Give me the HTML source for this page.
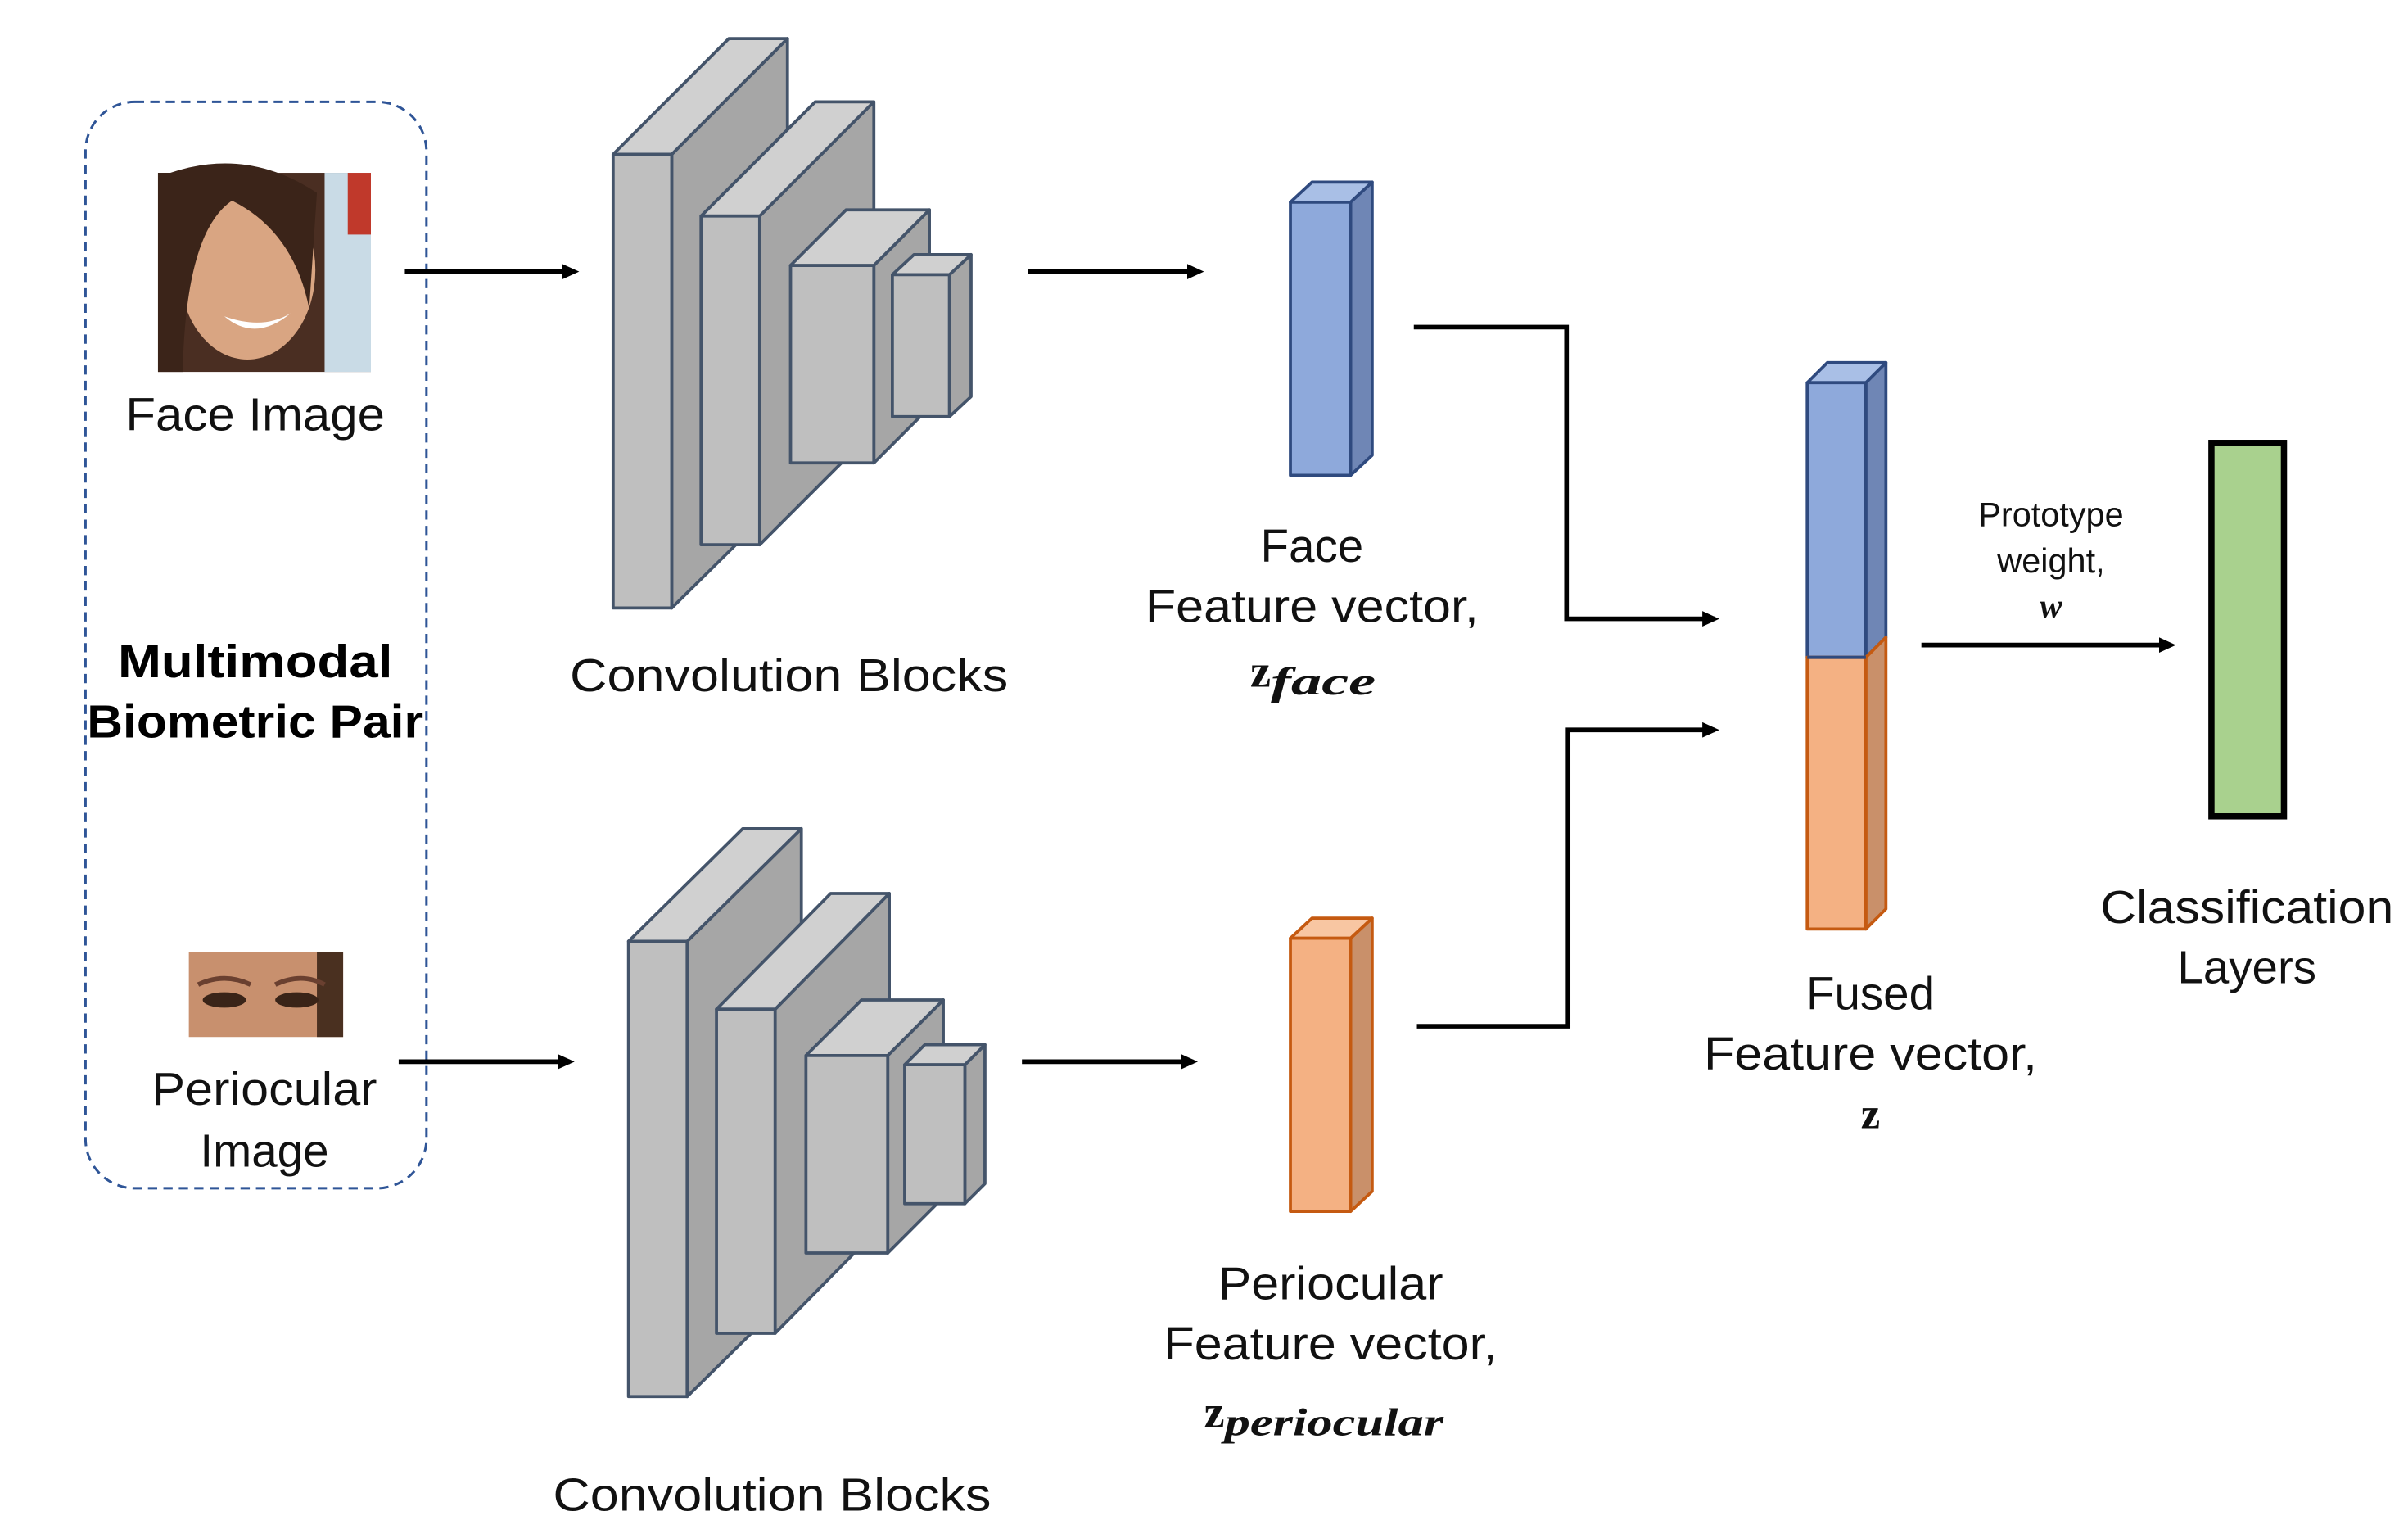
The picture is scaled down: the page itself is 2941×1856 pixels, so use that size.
<!DOCTYPE html>
<html><head><meta charset="utf-8"><style>html,body{margin:0;padding:0;background:#fff}svg{display:block}</style></head>
<body>
<svg width="2941" height="1856" viewBox="0 0 1560 985" xmlns="http://www.w3.org/2000/svg" font-family="Liberation Sans, sans-serif">
<defs>
<marker id="ah" markerWidth="11" markerHeight="10" refX="8" refY="5" orient="auto" markerUnits="userSpaceOnUse"><path d="M0,0 L11,5 L0,10 Z" fill="#000"/></marker>
</defs>
<rect x="0" y="0" width="1560" height="985" fill="#fff"/>
<rect x="55" y="66" width="221" height="704" rx="32" fill="none" stroke="#2F5597" stroke-width="1.6" stroke-dasharray="6,4"/>
<rect x="102" y="112" width="138" height="129" fill="#4a2e22"/>
<rect x="210" y="112" width="30" height="129" fill="#c9dbe6"/>
<rect x="225" y="112" width="15" height="40" fill="#c0392b"/>
<ellipse cx="160" cy="175" rx="44" ry="58" fill="#d9a582"/>
<path d="M110,112 Q160,95 205,125 L200,200 Q190,150 150,130 Q120,150 118,241 L102,241 L102,112 Z" fill="#3b2419"/>
<path d="M145,205 Q165,222 188,203 Q170,214 145,205 Z" fill="#fff"/>
<rect x="122" y="617" width="100" height="55" fill="#c8906e"/>
<rect x="205" y="617" width="17" height="55" fill="#4a3020"/>
<ellipse cx="145" cy="648" rx="14" ry="5" fill="#3a2418"/>
<ellipse cx="192" cy="648" rx="14" ry="5" fill="#3a2418"/>
<path d="M128,638 Q145,630 162,638" stroke="#6a4030" stroke-width="3" fill="none"/>
<path d="M178,638 Q195,630 210,638" stroke="#6a4030" stroke-width="3" fill="none"/>
<g font-size="30" fill="#111" text-anchor="middle">
<text x="165" y="279" textLength="168" lengthAdjust="spacingAndGlyphs">Face Image</text>
<text x="171" y="716" textLength="146" lengthAdjust="spacingAndGlyphs">Periocular</text>
<text x="171" y="756">Image</text>
<text x="511" y="448" textLength="284" lengthAdjust="spacingAndGlyphs">Convolution Blocks</text>
<text x="500" y="979" textLength="284" lengthAdjust="spacingAndGlyphs">Convolution Blocks</text>
<text x="850" y="364">Face</text>
<text x="850" y="403" textLength="216" lengthAdjust="spacingAndGlyphs">Feature vector,</text>
<text x="862" y="842" textLength="146" lengthAdjust="spacingAndGlyphs">Periocular</text>
<text x="862" y="881" textLength="216" lengthAdjust="spacingAndGlyphs">Feature vector,</text>
<text x="1212" y="654">Fused</text>
<text x="1212" y="693" textLength="216" lengthAdjust="spacingAndGlyphs">Feature vector,</text>
<text x="1456" y="598" textLength="190" lengthAdjust="spacingAndGlyphs">Classification</text>
<text x="1456" y="637">Layers</text>
</g>
<g font-size="30" font-weight="bold" fill="#000" text-anchor="middle">
<text x="165" y="439" textLength="178" lengthAdjust="spacingAndGlyphs">Multimodal</text>
<text x="165" y="478" textLength="218" lengthAdjust="spacingAndGlyphs">Biometric Pair</text>
</g>
<g font-family="Liberation Serif, serif" fill="#111">
<text x="810" y="445" font-size="30" font-weight="bold">z<tspan font-size="25" font-style="italic" dy="5" textLength="68" lengthAdjust="spacingAndGlyphs">face</tspan></text>
<text x="780" y="925" font-size="30" font-weight="bold">z<tspan font-size="25" font-style="italic" dy="5" textLength="142" lengthAdjust="spacingAndGlyphs">periocular</tspan></text>
<text x="1212" y="731" font-size="28" font-weight="bold" text-anchor="middle">z</text>
<text x="1329" y="400" font-size="22" font-weight="bold" font-style="italic" text-anchor="middle">w</text>
</g>
<g font-size="22" fill="#111" text-anchor="middle">
<text x="1329" y="341">Prototype</text>
<text x="1329" y="371">weight,</text>
</g>
<g stroke="#000" stroke-width="3" fill="none" marker-end="url(#ah)">
<line x1="262" y1="176" x2="372" y2="176"/>
<line x1="258" y1="688" x2="369" y2="688"/>
<line x1="666" y1="176" x2="777" y2="176"/>
<line x1="662" y1="688" x2="773" y2="688"/>
<polyline points="916,212 1015,212 1015,401 1111,401"/>
<polyline points="918,665 1016,665 1016,473 1111,473"/>
<line x1="1245" y1="418" x2="1407" y2="418"/>
</g>
<g stroke="#44546A" stroke-width="2" stroke-linejoin="round">
<polygon points="435,100 510,25 510,320 435,394" fill="#A6A6A6"/><polygon points="397,100 472,25 510,25 435,100" fill="#D0D0D0"/><rect x="397" y="100" width="38" height="294" fill="#BFBFBF"/>
<polygon points="492,140 566,66 566,279 492,353" fill="#A6A6A6"/><polygon points="454,140 528,66 566,66 492,140" fill="#D0D0D0"/><rect x="454" y="140" width="38" height="213" fill="#BFBFBF"/>
<polygon points="566,172 602,136 602,264 566,300" fill="#A6A6A6"/><polygon points="512,172 548,136 602,136 566,172" fill="#D0D0D0"/><rect x="512" y="172" width="54" height="128" fill="#BFBFBF"/>
<polygon points="615,178 629,165 629,257 615,270" fill="#A6A6A6"/><polygon points="578,178 592,165 629,165 615,178" fill="#D0D0D0"/><rect x="578" y="178" width="37" height="92" fill="#BFBFBF"/>
<polygon points="445,610 519,537 519,832 445,905" fill="#A6A6A6"/><polygon points="407,610 481,537 519,537 445,610" fill="#D0D0D0"/><rect x="407" y="610" width="38" height="295" fill="#BFBFBF"/>
<polygon points="502,654 576,579 576,789 502,864" fill="#A6A6A6"/><polygon points="464,654 538,579 576,579 502,654" fill="#D0D0D0"/><rect x="464" y="654" width="38" height="210" fill="#BFBFBF"/>
<polygon points="575,684 611,648 611,776 575,812" fill="#A6A6A6"/><polygon points="522,684 558,648 611,648 575,684" fill="#D0D0D0"/><rect x="522" y="684" width="53" height="128" fill="#BFBFBF"/>
<polygon points="625,690 638,677 638,767 625,780" fill="#A6A6A6"/><polygon points="586,690 599,677 638,677 625,690" fill="#D0D0D0"/><rect x="586" y="690" width="39" height="90" fill="#BFBFBF"/>
</g>
<g stroke-width="2" stroke-linejoin="round">
<polygon points="875,131 889,118 889,295 875,308" fill="#6F86B5" stroke="#2F4A7F"/>
<polygon points="836,131 850,118 889,118 875,131" fill="#A9BFE6" stroke="#2F4A7F"/>
<rect x="836" y="131" width="39" height="177" fill="#8EA9DB" stroke="#2F4A7F"/>
<polygon points="875,608 889,595 889,772 875,785" fill="#C9906A" stroke="#C55A11"/>
<polygon points="836,608 850,595 889,595 875,608" fill="#F8C6A2" stroke="#C55A11"/>
<rect x="836" y="608" width="39" height="177" fill="#F4B183" stroke="#C55A11"/>
<polygon points="1209,248 1222,235 1222,413 1209,426" fill="#6F86B5" stroke="#2F4A7F"/>
<polygon points="1171,248 1184,235 1222,235 1209,248" fill="#A9BFE6" stroke="#2F4A7F"/>
<rect x="1171" y="248" width="38" height="178" fill="#8EA9DB" stroke="#2F4A7F"/>
<polygon points="1209,426 1222,413 1222,589 1209,602" fill="#C9906A" stroke="#C55A11"/>
<rect x="1171" y="426" width="38" height="176" fill="#F4B183" stroke="#C55A11"/>
<line x1="1171" y1="426" x2="1209" y2="426" stroke="#2F4A7F"/>
</g>
<rect x="1433" y="287" width="47" height="242" fill="#A9D18E" stroke="#000" stroke-width="4"/>
</svg>
</body></html>
